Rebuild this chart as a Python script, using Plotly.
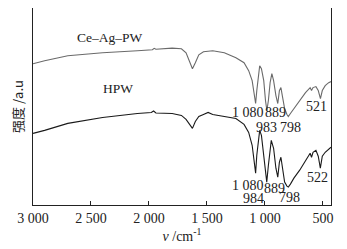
import plotly.graph_objects as go

# Wavenumbers (cm^-1) and intensities (a.u.)
wn_ce = [3000, 2900, 2700, 2400, 2100, 1970, 1955, 1940, 1800, 1720, 1680, 1650, 1625, 1600, 1570, 1530,
         1450, 1350, 1250, 1180, 1140, 1110, 1090, 1080, 1070, 1055, 1045, 1030, 1010, 995, 983, 970,
         955, 940, 925, 905, 889, 875, 862, 850, 830, 810, 798, 780, 750, 700, 650, 610, 598,
         585, 560, 540, 521, 505, 480, 450, 430]
int_ce = [142, 145, 150, 153, 155, 156, 157.5, 156.5, 157.7, 157, 153, 145, 137, 143, 151, 154,
          155, 153, 148, 143, 135, 125, 107, 102, 115, 133, 140, 137, 125, 105, 95, 105,
          123, 132, 125, 110, 102, 115, 118, 110, 97, 91, 89, 92, 97, 105, 113, 118, 115,
          118, 119, 115, 107, 115, 120, 123, 124]

wn_hpw = [3000, 2900, 2700, 2400, 2100, 1980, 1960, 1940, 1800, 1720, 1680, 1650, 1625, 1600, 1570, 1530,
          1490, 1450, 1350, 1250, 1180, 1140, 1110, 1090, 1080, 1070, 1055, 1045, 1030, 1010, 995, 984,
          970, 955, 945, 925, 905, 889, 875, 862, 850, 830, 810, 798, 780, 750, 700, 650, 610,
          598, 585, 560, 540, 522, 505, 480, 450, 430]
int_hpw = [72, 75, 82, 88, 92, 93, 94.5, 92.5, 92, 90, 86, 81, 77, 84, 89, 91,
           93, 91, 89, 87, 81, 73, 60, 40, 32, 50, 70, 75, 70, 50, 33, 23,
           40, 60, 65, 57, 37, 28, 43, 48, 37, 23, 19, 18, 21, 27, 35, 45, 52,
           48, 53, 55, 49, 37, 49, 53, 56, 58]

tick_vals = [3000, 2500, 2000, 1500, 1000, 500]
tick_text = ["3 000", "2 500", "2 000", "1 500", "1 000", "500"]

# Peak labels: (text, wavenumber position, intensity position)
labels_text = ["1 080", "889", "983", "798", "521", "1 080", "889", "984", "798", "522", "Ce–Ag–PW", "HPW"]
labels_x = [1147, 905, 983, 780, 552, 1142, 914, 1095, 784, 543, 2336, 2267]
labels_y = [93, 93, 78, 78, 99, 20, 17, 7, 8, 28, 168, 117]

font_family = "Liberation Serif, Times New Roman, serif"

fig = go.Figure()
fig.add_trace(go.Scatter(x=wn_ce, y=int_ce, mode="lines", line=dict(color="#6a6a6a", width=1.1),
                         showlegend=False, hoverinfo="skip"))
fig.add_trace(go.Scatter(x=wn_hpw, y=int_hpw, mode="lines", line=dict(color="#1a1a1a", width=1.1),
                         showlegend=False, hoverinfo="skip"))

for t, x, y in zip(labels_text, labels_x, labels_y):
    fig.add_annotation(x=x, y=y, xref="x", yref="y", text=t, showarrow=False,
                       font=dict(family=font_family, size=14 if t not in ("Ce–Ag–PW", "HPW") else 13.5,
                                 color="#222"),
                       xanchor="center", yanchor="middle")

# The page body has an 8px default margin, so the figure is sized to fit inside it
fig.update_layout(
    width=339, height=241,
    margin=dict(l=25, r=16, t=0, b=44),
    paper_bgcolor="white", plot_bgcolor="white",
    font=dict(family=font_family, size=14, color="#222"),
    xaxis=dict(range=[3000, 430], tickvals=tick_vals, ticktext=tick_text,
               ticks="inside", ticklen=4, tickcolor="#222", showgrid=False, zeroline=False,
               showline=True, linecolor="#222", linewidth=1, mirror=True,
               tickfont=dict(family=font_family, size=14),
               title=dict(text="<i>v</i> /cm<sup>-1</sup>", font=dict(family=font_family, size=14),
                          standoff=6)),
    yaxis=dict(range=[0, 198], showticklabels=False, ticks="", showgrid=False, zeroline=False,
               showline=True, linecolor="#222", linewidth=1, mirror=True,
               title=dict(text="强度 /a.u", font=dict(family="Noto Sans CJK SC, " + font_family, size=13),
                          standoff=8)),
)

fig.write_html("out.html")
